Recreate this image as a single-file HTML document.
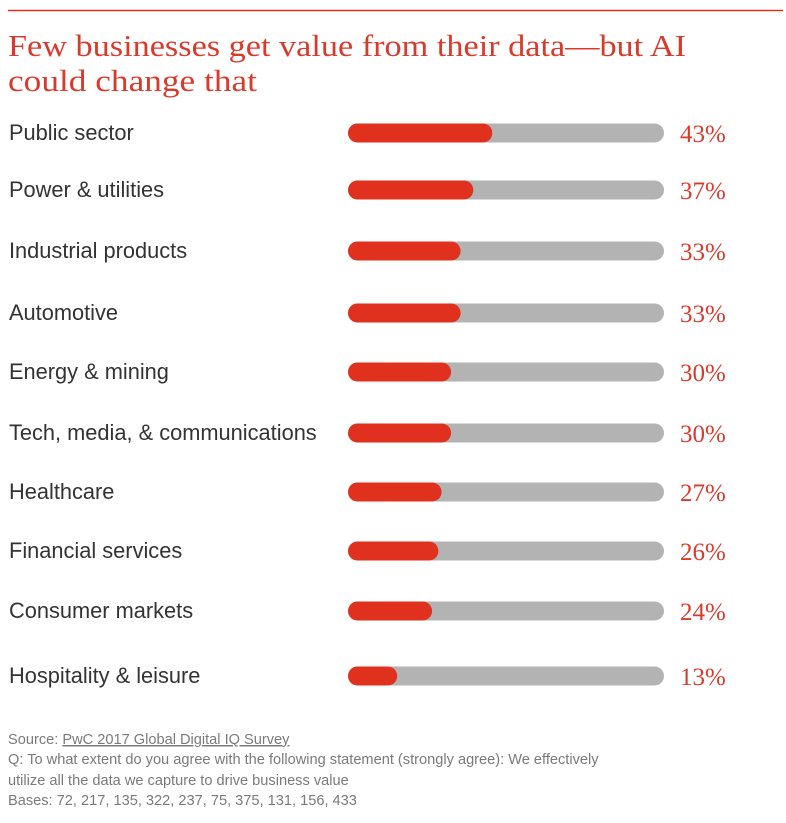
<!DOCTYPE html>
<html><head><meta charset="utf-8"><style>
body{margin:0;background:#fff;width:786px;height:823px;overflow:hidden}
svg{display:block}
</style></head><body>
<svg width="786" height="823">
<line x1="8" y1="10.5" x2="783" y2="10.5" stroke="#e0301e" stroke-width="1.5"/>
<text x="8" y="56" font-family="Liberation Serif, serif" font-size="31" fill="#d93a2b" textLength="678" lengthAdjust="spacingAndGlyphs">Few businesses get value from their data—but AI</text>
<text x="8" y="91" font-family="Liberation Serif, serif" font-size="31" fill="#d93a2b" textLength="249" lengthAdjust="spacingAndGlyphs">could change that</text>
<g id="rows"></g>
<g font-family="Liberation Sans, sans-serif" font-size="14.6" fill="#7a7a7a">
<text x="8" y="744">Source: <tspan text-decoration="underline">PwC 2017 Global Digital IQ Survey</tspan></text>
<text x="8" y="764">Q: To what extent do you agree with the following statement (strongly agree): We effectively</text>
<text x="8" y="785">utilize all the data we capture to drive business value</text>
<text x="8" y="805">Bases: 72, 217, 135, 322, 237, 75, 375, 131, 156, 433</text>
</g>
</svg>
<script>
const categories=["Public sector","Power & utilities","Industrial products","Automotive","Energy & mining","Tech, media, & communications","Healthcare","Financial services","Consumer markets","Hospitality & leisure"];
const values=[43,37,33,33,30,30,27,26,24,13];
const rowCenters=[133,190,251,313,372,433,492,551,611,676];
const NS="http://www.w3.org/2000/svg";
const g=document.getElementById('rows');
const x0=348,x1=664,h=19;
function xScale(v){return x0+8+v*3.17;}
function mk(t,a){const e=document.createElementNS(NS,t);for(const k in a)e.setAttribute(k,a[k]);return e;}
categories.forEach((c,i)=>{
  const cy=rowCenters[i];
  const lab=mk('text',{x:9,y:cy+7,'font-family':'Liberation Sans, sans-serif','font-size':'21.8',fill:'#333'});
  lab.textContent=c;
  
  
  g.appendChild(lab);
  const bg=mk('rect',{x:x0,y:cy-h/2,width:x1-x0,height:h,rx:h/2,fill:'#b3b3b3'});
  
  
  g.appendChild(bg);
  const bar=mk('rect',{x:x0,y:cy-h/2,width:xScale(values[i])-x0,height:h,rx:h/2,fill:'#e0301e'});
  
  
  g.appendChild(bar);
  const v=mk('text',{x:680,y:cy+9,'font-family':'Liberation Serif, serif','font-size':'25',fill:'#d93a2b'});
  v.textContent=values[i]+'%';
  
  
  g.appendChild(v);
});
</script>
</body></html>
